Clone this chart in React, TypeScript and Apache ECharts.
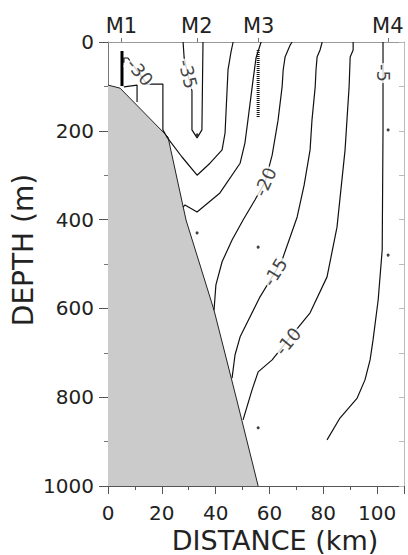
import { useEffect, useRef } from 'react';
import * as echarts from 'echarts';

// Moorings along the section (km)
const moorings = ['M1', 'M2', 'M3', 'M4'];
const mooringKm = [5, 33, 56, 104];

// Bathymetry profile [distance km, depth m]
const bathymetry = [
  [0, 97], [4.5, 104], [22.3, 214], [29.0, 401], [39.4, 604], [47.6, 800], [55.8, 1000],
];

// Contours [distance km, depth m]
const contourM35 = [
  [27.9, 0], [28.3, 36], [29.7, 74], [31.2, 110], [31.2, 198], [33.1, 216], [34.9, 198], [35.3, 0],
];
const contourM30 = [
  [46.5, 0], [45.7, 23], [44.6, 63], [43.9, 153], [43.5, 205], [42.4, 243], [37.9, 273],
  [33.1, 300], [27.5, 259], [21.9, 214], [20.4, 198], [20.4, 95], [14.5, 95], [7.4, 36],
  [5.9, 36], [5.9, 47],
];
const contourM30b = [[5.9, 101], [10.8, 97], [10.8, 135]];
const contourM25 = [
  [56.9, 0], [55.0, 36], [53.9, 86], [52.0, 176], [50.9, 227], [49.1, 273], [41.6, 340],
  [33.1, 383], [28.6, 367], [27.9, 372],
];
const contourM20 = [
  [68.4, 0], [67.7, 7], [65.8, 34], [65.1, 63], [64.7, 101], [63.2, 176], [61.0, 255],
  [58.4, 315], [54.6, 356], [50.2, 401], [46.1, 446], [42.4, 495], [40.1, 547], [39.4, 604],
];
const contourM15 = [
  [79.6, 0], [78.8, 18], [77.7, 34], [77.3, 63], [77.0, 101], [75.8, 176], [75.1, 243],
  [72.9, 322], [70.3, 394], [64.7, 491], [62.1, 518], [56.5, 574], [49.1, 664], [47.2, 705],
  [46.1, 757],
];
const contourM10 = [
  [91.1, 0], [91.1, 18], [90.0, 34], [89.6, 101], [88.8, 176], [88.1, 243], [85.1, 417],
  [81.4, 529], [75.1, 610], [66.9, 671], [61.0, 716], [55.8, 743], [53.5, 784], [50.2, 851],
];
const contourM5 = [
  [102.2, 0], [102.2, 198], [101.9, 468], [100.4, 581], [98.5, 671], [97.4, 716],
  [95.5, 761], [92.6, 802], [86.2, 847], [81.4, 896],
];

// Contour labels: text, position [km, depth], angle along the line
const labelTexts = ['-35', '-30', '-20', '-15', '-10', '-5'];
const labelPositions = [[29.7, 72], [11.9, 68], [58.4, 315], [62.1, 518], [66.9, 674], [102.2, 70]];
const labelAngles = [-76, -50, 66, 58, 50, -90];

// Instruments
const m1Instrument = [[5.2, 20], [5.2, 99]];
const m3Instrument = [[55.8, 18], [55.8, 171]];
const instrumentPoints = [
  [33.1, 209], [33.1, 430], [55.8, 462], [55.8, 869], [104.1, 198], [104.1, 480],
];

const FONT = 'DejaVu Sans';

export default function App() {
  const ref = useRef<HTMLDivElement>(null);

  useEffect(() => {
    if (!ref.current) return;
    const chart = echarts.init(ref.current, undefined, { renderer: 'svg' });
    const contourStyle = { color: '#111', width: 1.2 };
    const contour = (data: number[][]) => ({
      type: 'line',
      data,
      symbol: 'none',
      smooth: false,
      silent: true,
      lineStyle: contourStyle,
      z: 3,
    });
    chart.setOption({
      animation: false,
      backgroundColor: '#fff',
      grid: { left: 108, right: 4, top: 42, bottom: 69, containLabel: false },
      xAxis: [
        {
          type: 'value',
          position: 'bottom',
          min: 0,
          max: 110,
          interval: 20,
          axisLine: { show: true, onZero: false, lineStyle: { color: '#555', width: 1 } },
          axisTick: { show: true, length: 8, lineStyle: { color: '#555' } },
          minorTick: { show: true, splitNumber: 2, length: 4, lineStyle: { color: '#555' } },
          axisLabel: {
            fontSize: 20,
            lineHeight: 20,
            fontFamily: FONT,
            color: '#222',
            margin: 17,
            showMaxLabel: false,
            formatter: (v: number) => String(v),
          },
          splitLine: { show: false },
        },
        {
          type: 'value',
          position: 'top',
          min: 0,
          max: 110,
          axisLine: { show: true, onZero: false, lineStyle: { color: '#999', width: 1 } },
          axisTick: { show: true, length: 4, customValues: mooringKm, lineStyle: { color: '#777' } },
          axisLabel: {
            fontSize: 21,
            fontFamily: FONT,
            color: '#222',
            margin: 6,
            customValues: mooringKm,
            formatter: (v: number) => moorings[mooringKm.indexOf(v)] ?? '',
          },
          splitLine: { show: false },
        },
      ],
      yAxis: [
        {
          type: 'value',
          position: 'left',
          inverse: true,
          min: 0,
          max: 1000,
          interval: 200,
          axisLine: { show: true, onZero: false, lineStyle: { color: '#777', width: 1 } },
          axisTick: { show: true, length: 9, lineStyle: { color: '#555' } },
          minorTick: { show: true, splitNumber: 2, length: 4, lineStyle: { color: '#777' } },
          axisLabel: {
            fontSize: 20,
            fontFamily: FONT,
            color: '#222',
            margin: 14,
            formatter: (v: number) => String(v),
          },
          splitLine: { show: false },
        },
        {
          type: 'value',
          position: 'right',
          inverse: true,
          min: 0,
          max: 1000,
          interval: 100,
          axisLine: { show: true, onZero: false, lineStyle: { color: '#bbb', width: 1 } },
          axisTick: { show: true, inside: true, length: 5, lineStyle: { color: '#bbb' } },
          axisLabel: { show: false },
          splitLine: { show: false },
        },
      ],
      graphic: [
        {
          type: 'text',
          x: 275,
          y: 540,
          style: {
            text: 'DISTANCE (km)',
            fontSize: 27,
            lineHeight: 24,
            fontFamily: FONT,
            fill: '#222',
            align: 'center',
            verticalAlign: 'middle',
          },
        },
        {
          type: 'text',
          x: 23,
          y: 250,
          rotation: Math.PI / 2,
          style: { text: 'DEPTH (m)', fontSize: 28, fontFamily: FONT, fill: '#222', align: 'center', verticalAlign: 'middle' },
        },
      ],
      series: [
        {
          type: 'line',
          data: bathymetry,
          symbol: 'none',
          silent: true,
          lineStyle: { color: '#222', width: 1 },
          areaStyle: { color: '#cbcbcb', opacity: 1, origin: 'end' },
          z: 1,
        },
        contour(contourM35),
        contour(contourM30),
        contour(contourM30b),
        contour(contourM25),
        contour(contourM20),
        contour(contourM15),
        contour(contourM10),
        contour(contourM5),
        {
          type: 'line',
          data: m1Instrument,
          symbol: 'none',
          silent: true,
          lineStyle: { color: '#000', width: 3 },
          z: 4,
        },
        {
          type: 'line',
          data: m3Instrument,
          symbol: 'none',
          silent: true,
          lineStyle: { color: '#111', width: 3, type: [1, 1] },
          z: 4,
        },
        {
          type: 'scatter',
          data: instrumentPoints,
          symbol: 'circle',
          symbolSize: 3,
          silent: true,
          itemStyle: { color: '#111' },
          z: 4,
        },
        {
          type: 'scatter',
          symbolSize: 0,
          silent: true,
          z: 5,
          data: labelTexts.map((t, i) => ({
            name: t,
            value: labelPositions[i],
            label: { rotate: labelAngles[i] },
          })),
          label: {
            show: true,
            position: 'inside',
            formatter: '{b}',
            fontSize: 18,
            fontFamily: FONT,
            color: '#111',
            backgroundColor: '#fff',
            padding: [0, 1],
          },
        },
      ],
    });
    return () => chart.dispose();
  }, []);

  return (
    <div
      ref={ref}
      style={{ position: 'fixed', left: 0, top: 0, width: 408, height: 555, background: '#fff' }}
    />
  );
}
